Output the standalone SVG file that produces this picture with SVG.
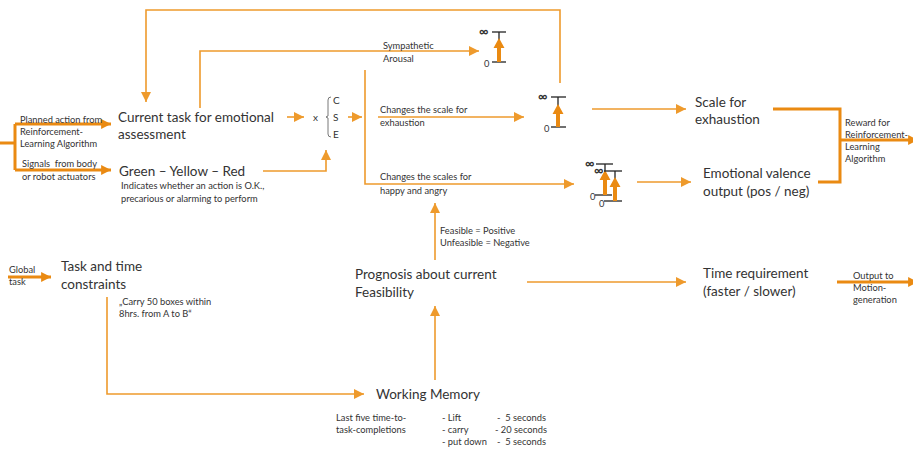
<svg xmlns="http://www.w3.org/2000/svg" width="913" height="450" viewBox="0 0 913 450">
<defs>
<marker id="ahb" viewBox="0 0 10 10" refX="10" refY="5" markerWidth="3.3" markerHeight="3.3" orient="auto"><path d="M0,0 L10,5 L0,10 z" fill="#EA8A12"/></marker>
<marker id="ahs" viewBox="0 0 10 10" refX="10" refY="5" markerWidth="10" markerHeight="10" markerUnits="userSpaceOnUse" orient="auto"><path d="M0,0 L10,5 L0,10 z" fill="#EE9A2C"/></marker>
</defs>
<style>
.t{font-family:Lato,"Open Sans",sans-serif;fill:#333;}
.b{font-size:13.5px;}
.s{font-size:9.3px;}
.m{font-size:10px;}
.inf{font-size:13px;font-weight:bold;}
.ln{fill:none;stroke:#EE9A2C;stroke-width:1.6;}
.th{fill:none;stroke:#EA8A12;stroke-width:3;}
.bar{stroke:#222;stroke-width:1.3;}
.ga{fill:#EA8A12;}
</style>
<rect width="913" height="450" fill="#fff"/>
<g id="connectors">
<path class="ln" d="M560,83 V10 H146 V102" marker-end="url(#ahs)"/>
<path class="ln" d="M200,108 V51 H479" marker-end="url(#ahs)"/>
<path class="ln" d="M287,117 H304" marker-end="url(#ahs)"/>
<path class="ln" d="M348,117 H362" marker-end="url(#ahs)"/>
<path class="ln" d="M365,70 V184 H574" marker-end="url(#ahs)"/>
<path class="ln" d="M378,117 H524" marker-end="url(#ahs)"/>
<path class="ln" d="M263,171 H326 V150" marker-end="url(#ahs)"/>
<path class="ln" d="M592,109 H686" marker-end="url(#ahs)"/>
<path class="ln" d="M637,182 H691" marker-end="url(#ahs)"/>
<path class="th" d="M773,109 H840 V182 H818"/>
<path class="th" d="M840,140 H918" marker-end="url(#ahb)"/>
<path class="th" d="M0,143 H15 M15,124 V170"/>
<path class="th" d="M15,124 H111" marker-end="url(#ahb)"/>
<path class="th" d="M15,170 H111" marker-end="url(#ahb)"/>
<path class="th" d="M8,277 H51" marker-end="url(#ahb)"/>
<path class="ln" d="M107,297 V394 H364" marker-end="url(#ahs)"/>
<path class="ln" d="M435,380 V306" marker-end="url(#ahs)"/>
<path class="ln" d="M435,260 V203" marker-end="url(#ahs)"/>
<path class="ln" d="M527,282 H686" marker-end="url(#ahs)"/>
<path class="th" d="M837,282 H918" marker-end="url(#ahb)"/>
</g>
<g id="gauge-arousal">
<line class="bar" x1="492" y1="32" x2="506" y2="32"/><line class="bar" x1="499" y1="32" x2="499" y2="62"/><line class="bar" x1="492" y1="62" x2="506" y2="62"/>
<path class="ga" d="M499,38 L504.5,48 H501 V62 H497 V48 H493.5 z"/>
<text class="t inf" x="479" y="36">∞</text><text class="t s" x="484" y="67">0</text>
</g>
<g id="gauge-exhaustion">
<line class="bar" x1="551" y1="97" x2="566" y2="97"/><line class="bar" x1="558" y1="97" x2="558" y2="127"/><line class="bar" x1="551" y1="127" x2="566" y2="127"/>
<path class="ga" d="M558,104 L563.5,114 H560 V127 H556 V114 H552.5 z"/>
<text class="t inf" x="538" y="101">∞</text><text class="t s" x="544" y="132">0</text>
</g>
<g id="gauge-valence">
<line class="bar" x1="596" y1="164" x2="613" y2="164"/><line class="bar" x1="605" y1="164" x2="605" y2="195"/><line class="bar" x1="595" y1="195" x2="612" y2="195"/>
<path class="ga" d="M605,170 L610.5,180 H607 V195 H603 V180 H599.5 z"/>
<line class="bar" x1="604" y1="171" x2="622" y2="171"/><line class="bar" x1="615" y1="171" x2="615" y2="201"/><line class="bar" x1="604" y1="201" x2="622" y2="201"/>
<path class="ga" d="M615,177 L620.5,187 H617 V201 H613 V187 H609.5 z"/>
<text class="t inf" x="585" y="168">∞</text><text class="t inf" x="594" y="175">∞</text>
<text class="t s" x="590" y="200">0</text><text class="t s" x="599" y="207">0</text>
</g>
<g id="inputs">
<text class="t s" x="20" y="123">Planned action from</text>
<text class="t s" x="20" y="135">Reinforcement-</text>
<text class="t s" x="20" y="147">Learning Algorithm</text>
<text class="t s" x="22" y="167" xml:space="preserve">Signals  from body</text>
<text class="t s" x="22" y="180">or robot actuators</text>
</g>
<g id="current-task">
<text class="t b" x="118" y="122">Current task for emotional</text>
<text class="t b" x="118" y="139">assessment</text>
</g>
<g id="gyr">
<text class="t b" x="119" y="176">Green – Yellow – Red</text>
<text class="t s" x="121" y="189">Indicates whether an action is O.K.,</text>
<text class="t s" x="121" y="202">precarious or alarming to perform</text>
</g>
<g id="cse">
<text class="t m" x="313" y="121">x</text>
<path d="M331,97 Q328,97 328,100 V116 L326,117 L328,118 V134 Q328,137 331,137" fill="none" stroke="#555" stroke-width="0.8"/>
<text class="t m" x="333" y="104">C</text>
<text class="t m" x="333" y="121">S</text>
<text class="t m" x="333" y="138">E</text>
</g>
<g id="labels">
<text class="t s" x="383" y="49">Sympathetic</text>
<text class="t s" x="383" y="62">Arousal</text>
<text class="t s" x="380" y="113">Changes the scale for</text>
<text class="t s" x="380" y="126">exhaustion</text>
<text class="t s" x="380" y="180">Changes the scales for</text>
<text class="t s" x="380" y="194">happy and angry</text>
<text class="t s" x="440" y="234">Feasible = Positive</text>
<text class="t s" x="440" y="246">Unfeasible = Negative</text>
</g>
<g id="scale-exhaustion">
<text class="t b" x="695" y="107">Scale for</text>
<text class="t b" x="695" y="124">exhaustion</text>
</g>
<g id="valence">
<text class="t b" x="703" y="178">Emotional valence</text>
<text class="t b" x="703" y="196">output (pos / neg)</text>
</g>
<g id="reward">
<text class="t s" x="845" y="126">Reward for</text>
<text class="t s" x="845" y="138">Reinforcement-</text>
<text class="t s" x="845" y="150">Learning</text>
<text class="t s" x="845" y="162">Algorithm</text>
</g>
<g id="global">
<text class="t s" x="9" y="273">Global</text>
<text class="t s" x="9" y="285">task</text>
</g>
<g id="task-time">
<text class="t b" x="61" y="271">Task and time</text>
<text class="t b" x="61" y="289">constraints</text>
<text class="t s" x="119" y="305">„Carry 50 boxes within</text>
<text class="t s" x="119" y="317">8hrs. from A to B“</text>
</g>
<g id="prognosis">
<text class="t b" x="355" y="279">Prognosis about current</text>
<text class="t b" x="355" y="297">Feasibility</text>
</g>
<g id="time-req">
<text class="t b" x="703" y="278">Time requirement</text>
<text class="t b" x="703" y="296">(faster / slower)</text>
</g>
<g id="output">
<text class="t s" x="853" y="279">Output to</text>
<text class="t s" x="853" y="291">Motion-</text>
<text class="t s" x="853" y="303">generation</text>
</g>
<g id="working-memory">
<text class="t b" x="376" y="399">Working Memory</text>
<text class="t s" x="336" y="421">Last five time-to-</text>
<text class="t s" x="336" y="433">task-completions</text>
<text class="t s" x="442" y="421">- Lift</text>
<text class="t s" x="442" y="433">- carry</text>
<text class="t s" x="442" y="445">- put down</text>
<text class="t s" x="497" y="421" xml:space="preserve">-  5 seconds</text>
<text class="t s" x="495" y="433">- 20 seconds</text>
<text class="t s" x="497" y="445" xml:space="preserve">-  5 seconds</text>
</g>
</svg>
